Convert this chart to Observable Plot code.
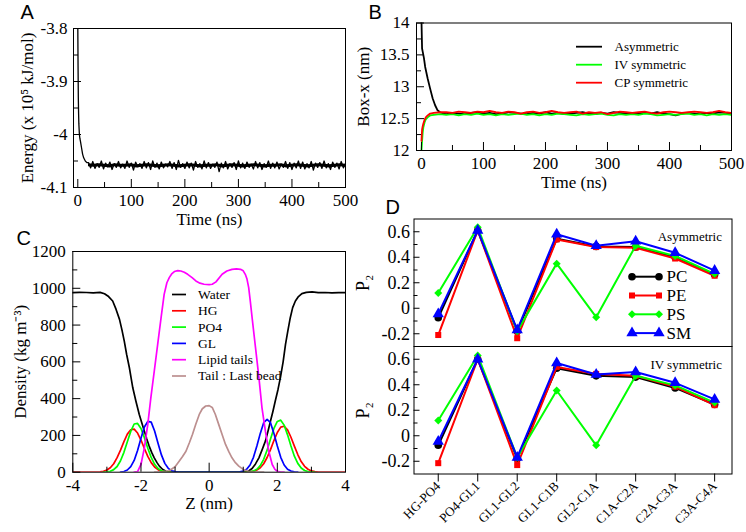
<!DOCTYPE html>
<html>
<head>
<meta charset="utf-8">
<script src="https://cdn.jsdelivr.net/npm/d3@7"></script>
<script src="https://cdn.jsdelivr.net/npm/@observablehq/plot@0.6"></script>
<style>
html,body{margin:0;padding:0;background:#fff;}
#fig{position:relative;width:746px;height:532px;overflow:hidden;background:#fff;}
#fig svg{position:absolute;overflow:visible;}
</style>
</head>
<body>
<div id="fig"></div>
<script>
// ================= DATA =================
// Panel A: total energy vs time
const energyTimeInit = [0, 0.5, 1, 1.5, 2, 3, 4, 5, 7, 9, 11, 14, 17];
const energyInit = [-3.79, -3.87, -3.93, -3.96, -3.98, -4.0, -4.008, -4.013, -4.025, -4.037, -4.044, -4.05, -4.053];
const energyNoiseStart = 20, energyNoiseStep = 4;
const energyNoise = [
-4.053,-4.063,-4.051,-4.064,-4.055,-4.062,-4.050,-4.065,-4.054,-4.061,
-4.052,-4.066,-4.055,-4.062,-4.051,-4.063,-4.056,-4.064,-4.050,-4.062,
-4.054,-4.067,-4.052,-4.061,-4.055,-4.064,-4.051,-4.063,-4.053,-4.066,
-4.050,-4.062,-4.054,-4.065,-4.052,-4.063,-4.056,-4.061,-4.051,-4.064,
-4.053,-4.066,-4.049,-4.062,-4.055,-4.064,-4.052,-4.063,-4.054,-4.067,
-4.051,-4.062,-4.055,-4.065,-4.050,-4.063,-4.053,-4.064,-4.056,-4.062,
-4.052,-4.070,-4.054,-4.063,-4.051,-4.065,-4.055,-4.062,-4.053,-4.066,
-4.050,-4.063,-4.054,-4.064,-4.052,-4.062,-4.056,-4.065,-4.051,-4.063,
-4.053,-4.066,-4.055,-4.062,-4.050,-4.064,-4.054,-4.063,-4.052,-4.065,
-4.056,-4.062,-4.051,-4.064,-4.053,-4.066,-4.054,-4.063,-4.050,-4.064,
-4.052,-4.065,-4.055,-4.063,-4.051,-4.067,-4.054,-4.062,-4.053,-4.064,
-4.050,-4.063,-4.055,-4.066,-4.052,-4.062,-4.054,-4.065,-4.051,-4.063,
-4.055];
// dense core of the fluctuation band (lower / upper edge), every 10 ns from 20 ns
const energyBandStart = 20, energyBandStep = 10;
const energyBandLow = [
-4.061,-4.062,-4.061,-4.062,-4.063,-4.061,-4.062,-4.062,-4.061,-4.063,
-4.062,-4.061,-4.062,-4.063,-4.062,-4.061,-4.062,-4.063,-4.062,-4.061,
-4.062,-4.063,-4.062,-4.062,-4.061,-4.063,-4.062,-4.061,-4.062,-4.063,
-4.062,-4.061,-4.062,-4.063,-4.062,-4.062,-4.061,-4.063,-4.062,-4.061,
-4.062,-4.063,-4.062,-4.061,-4.062,-4.063,-4.062,-4.061,-4.062];
const energyBandHigh = [
-4.055,-4.056,-4.055,-4.056,-4.057,-4.055,-4.056,-4.056,-4.055,-4.057,
-4.056,-4.055,-4.056,-4.057,-4.056,-4.055,-4.056,-4.057,-4.056,-4.055,
-4.056,-4.057,-4.056,-4.056,-4.055,-4.057,-4.056,-4.055,-4.056,-4.057,
-4.056,-4.055,-4.056,-4.057,-4.056,-4.056,-4.055,-4.057,-4.056,-4.055,
-4.056,-4.057,-4.056,-4.055,-4.056,-4.057,-4.056,-4.055,-4.056];
const energyXTicks = [0, 100, 200, 300, 400, 500];
const energyXMinor = [50, 150, 250, 350, 450];
const energyYTicks = [-4.1, -4, -3.9, -3.8];
const energyYMinor = [-4.05, -3.95, -3.85];

// Panel B: box-x vs time
const boxSeries = ["Asymmetric", "IV symmetric", "CP symmetric"];
const boxColors = ["#000000", "#00ff00", "#ff0000"];
const boxInitTime = [
  [0, 1, 2, 4, 6, 10, 14, 18, 22, 26, 30, 35],
  [0, 1, 2, 3, 5, 7, 10, 14, 20, 30],
  [0, 1, 2, 3, 5, 7, 10, 14, 20, 30]
];
const boxInitValue = [
  [14.05, 13.6, 13.55, 13.45, 13.31, 13.13, 12.97, 12.82, 12.71, 12.63, 12.6, 12.58],
  [12.0, 12.15, 12.28, 12.36, 12.44, 12.49, 12.52, 12.55, 12.56, 12.57],
  [12.15, 12.33, 12.38, 12.42, 12.48, 12.52, 12.55, 12.58, 12.59, 12.6]
];
const boxNoiseStart = 40, boxNoiseStep = 10;
const boxNoiseAsym = [
12.57,12.59,12.58,12.57,12.59,12.60,12.58,12.59,12.57,12.58,
12.60,12.59,12.58,12.57,12.59,12.58,12.60,12.58,12.59,12.57,
12.58,12.59,12.60,12.58,12.57,12.59,12.58,12.60,12.59,12.58,
12.57,12.58,12.59,12.58,12.60,12.58,12.57,12.55,12.58,12.59,
12.58,12.57,12.59,12.58,12.60,12.59,12.58];
const boxNoiseIV = [
12.56,12.57,12.55,12.57,12.56,12.58,12.56,12.57,12.55,12.57,
12.56,12.57,12.58,12.56,12.57,12.55,12.57,12.56,12.58,12.57,
12.56,12.55,12.57,12.56,12.57,12.58,12.56,12.55,12.57,12.56,
12.57,12.56,12.58,12.57,12.55,12.56,12.57,12.56,12.57,12.58,
12.56,12.57,12.55,12.57,12.56,12.57,12.56];
const boxNoiseCP = [
12.60,12.59,12.61,12.60,12.59,12.61,12.60,12.62,12.60,12.59,
12.61,12.60,12.58,12.60,12.61,12.59,12.60,12.62,12.60,12.59,
12.60,12.61,12.58,12.60,12.59,12.60,12.57,12.59,12.61,12.60,
12.59,12.60,12.61,12.59,12.58,12.60,12.61,12.60,12.59,12.60,
12.61,12.60,12.59,12.60,12.62,12.60,12.59];
const boxXTicks = [0, 100, 200, 300, 400, 500];
const boxXMinor = [50, 150, 250, 350, 450];
const boxYTicks = [12, 12.5, 13, 13.5, 14];
const boxYMinor = [12.25, 12.75, 13.25, 13.75];

// Panel C: density profiles
const densitySeries = ["Water", "HG", "PO4", "GL", "Lipid tails", "Tail : Last bead"];
const densityColors = ["#000000", "#ff0000", "#00ff00", "#0000ff", "#ff00ff", "#bc8f8f"];
const zWater = [-4,-3.8,-3.6,-3.4,-3.2,-3.07,-2.95,-2.83,-2.73,-2.63,
  -2.56,-2.49,-2.42,-2.34,-2.29,-2.24,-2.15,-2.05,-1.97,-1.90,
  -1.83,-1.76,-1.68,-1.61,-1.53,-1.46,-1.37,-1.27,-1.15,-1.0,
  1.0,1.15,1.26,1.36,1.46,1.55,1.65,1.73,1.80,1.87,
  1.94,2.02,2.09,2.17,2.24,2.31,2.38,2.45,2.53,2.62,
  2.72,2.85,3.02,3.2,3.4,3.6,3.8,4.0];
const dWater = [976,978,977,975,978,970,955,931,885,831,
  775,713,640,568,513,459,387,314,265,223,
  180,142,105,78,52,33,16,5,1,0,
  0,5,20,45,78,120,169,225,278,330,
  387,450,514,600,695,770,840,895,931,955,
  971,978,980,976,977,975,976,976];
const zHG = [-4,-3.3,-3.2,-3.1,-3.0,-2.9,-2.8,-2.7,-2.6,-2.5,
  -2.4,-2.3,-2.2,-2.1,-2.0,-1.9,-1.8,-1.7,-1.6,-1.5,
  -1.4,-1.3,-1.2,1.2,1.3,1.4,1.5,1.6,1.7,1.8,
  1.9,2.0,2.1,2.2,2.3,2.4,2.5,2.6,2.7,2.8,
  2.9,3.0,3.1,3.2,3.3,4];
const dHG = [0,0,2,5,12,24,46,79,120,166,
  207,231,234,213,175,129,86,52,28,14,
  6,2,0,2,5,12,24,46,80,123,
  172,216,245,250,230,190,142,96,58,32,
  16,7,3,1,0,0];
const zPO4 = [-3.1,-3.0,-2.9,-2.8,-2.7,-2.6,-2.5,-2.4,-2.3,-2.2,
  -2.1,-2.0,-1.9,-1.8,-1.7,-1.6,-1.5,-1.4,-1.3,-1.2,
  1.2,1.3,1.4,1.5,1.6,1.7,1.8,1.9,2.0,2.1,
  2.2,2.3,2.4,2.5,2.6,2.7,2.8,2.9,3.0,3.1];
const dPO4 = [0,2,5,14,31,62,108,165,222,262,
  265,238,188,130,80,43,20,8,3,1,
  2,7,16,36,70,120,180,238,276,283,
  256,203,142,87,48,23,9,3,1,0];
const zGL = [-2.6,-2.5,-2.4,-2.3,-2.2,-2.1,-2.0,-1.9,-1.8,-1.7,
  -1.6,-1.5,-1.4,-1.3,-1.2,-1.1,-1.0,-0.9,0.9,1.0,
  1.1,1.2,1.3,1.4,1.5,1.6,1.7,1.8,1.9,2.0,
  2.1,2.2,2.3,2.4,2.5,2.6];
const dGL = [0,4,12,30,64,118,185,246,276,272,
  224,157,94,48,21,8,3,1,2,6,
  16,39,81,142,211,269,287,269,211,142,
  81,39,16,6,2,0];
const zTails = [-2.2,-2.1,-2.0,-1.9,-1.8,-1.71,-1.61,-1.51,-1.41,-1.32,
  -1.24,-1.17,-1.1,-1.02,-0.92,-0.83,-0.73,-0.63,-0.5,-0.39,
  -0.27,-0.15,0,0.09,0.2,0.38,0.52,0.67,0.8,0.92,
  1.0,1.06,1.11,1.16,1.21,1.26,1.36,1.46,1.55,1.65,
  1.75,1.85,1.93,2.0,2.1,2.2];
const dTails = [0,3,42,132,260,405,550,695,840,967,
  1030,1058,1078,1091,1096,1094,1087,1076,1058,1040,
  1028,1022,1020,1022,1035,1076,1094,1103,1106,1103,
  1095,1076,1050,1004,925,840,677,514,350,223,
  114,42,15,5,1,0];
const zLast = [-1.6,-1.4,-1.17,-1.0,-0.88,-0.78,-0.68,-0.58,-0.49,-0.39,
  -0.29,-0.2,-0.1,0,0.09,0.18,0.28,0.38,0.48,0.58,
  0.67,0.77,0.87,1.0,1.15,1.4,1.6];
const dLast = [0,2,8,30,60,85,114,160,205,262,
  314,345,360,362,352,315,260,205,151,110,
  78,52,33,15,5,1,0];
const densityXTicks = [-4, -2, 0, 2, 4];
const densityXMinor = [-3, -1, 1, 3];
const densityYTicks = [0, 200, 400, 600, 800, 1000, 1200];
const densityYMinor = [100, 300, 500, 700, 900, 1100];

// Panel D: P2 order parameters
const bondLabels = ["HG-PO4","PO4-GL1","GL1-GL2","GL1-C1B","GL2-C1A","C1A-C2A","C2A-C3A","C3A-C4A"];
const lipidTypes = ["PC", "PE", "PS", "SM"];
const lipidColors = ["#000000", "#ff0000", "#00ff00", "#0000ff"];
const lipidSymbols = ["circle", "square", "diamond2", "triangle"];
const lipidSizes = [3.8, 3.4, 3.6, 4.2];
const asymPC = [-0.075, 0.61, -0.18, 0.545, 0.485, 0.48, 0.40, 0.265];
const asymPE = [-0.21, 0.61, -0.235, 0.54, 0.48, 0.475, 0.39, 0.255];
const asymPS = [0.12, 0.635, -0.18, 0.35, -0.07, 0.49, 0.41, 0.27];
const asymSM = [-0.045, 0.61, -0.17, 0.58, 0.49, 0.525, 0.435, 0.295];
const ivPC = [-0.075, 0.60, -0.18, 0.53, 0.47, 0.46, 0.375, 0.245];
const ivPE = [-0.215, 0.60, -0.23, 0.54, 0.485, 0.47, 0.385, 0.24];
const ivPS = [0.12, 0.63, -0.17, 0.355, -0.075, 0.47, 0.395, 0.26];
const ivSM = [-0.045, 0.60, -0.17, 0.57, 0.48, 0.50, 0.415, 0.285];
const p2YTicks = [-0.2, 0, 0.2, 0.4, 0.6];
const p2YMinor = [-0.1, 0.1, 0.3, 0.5];
const panelNotes = ["Asymmetric", "IV symmetric"];

// ================= RENDER =================
const fig = document.getElementById("fig");
const SERIF = '"Liberation Serif","Times New Roman",Times,serif';
const SANS = '"Liberation Sans",Arial,Helvetica,sans-serif';
const STYLE = "font-family:" + SERIF + ";font-size:17px;color:black;background:transparent;overflow:visible;";
const F = {fontFamily: SERIF};

function put(svg, left, top, size) {
  svg.setAttribute("font-family", SERIF);
  svg.setAttribute("font-size", size || 17);
  svg.style.fontFamily = SERIF;
  svg.style.fontSize = (size || 17) + "px";
  svg.style.position = "absolute";
  svg.style.left = left + "px";
  svg.style.top = top + "px";
  fig.appendChild(svg);
}
function insideTicks(pw, ph, xMaj, xMin, yMaj, yMin, xL, xl, yL, yl) {
  const m = [];
  if (xMaj) m.push(Plot.tickX(xMaj, {x: d => d, insetTop: ph - xL, stroke: "black"}));
  if (xMin) m.push(Plot.tickX(xMin, {x: d => d, insetTop: ph - xl, stroke: "black"}));
  if (yMaj) m.push(Plot.tickY(yMaj, {y: d => d, insetRight: pw - yL, stroke: "black"}));
  if (yMin) m.push(Plot.tickY(yMin, {y: d => d, insetRight: pw - yl, stroke: "black"}));
  return m;
}
const fmt = d => String(d);

// ---- Panel A ----
{
  const W = 365, H = 235, ML = 73, MR = 20, MT = 28, MB = 48;
  const pw = W - ML - MR, ph = H - MT - MB;
  const times = energyTimeInit.concat(energyNoise.map((_, i) => energyNoiseStart + i * energyNoiseStep));
  const vals = energyInit.concat(energyNoise);
  const data = times.map((t, i) => ({t, e: vals[i]}));
  const band = energyBandLow.map((lo, i) => ({t: energyBandStart + i * energyBandStep, lo, hi: energyBandHigh[i]}));
  const p = Plot.plot({
    width: W, height: H, marginLeft: ML, marginRight: MR, marginTop: MT, marginBottom: MB,
    style: STYLE,
    x: {domain: [-8, 500]},
    y: {domain: [-4.1, -3.8]},
    marks: [
      Plot.areaY(band, {x: "t", y1: "lo", y2: "hi", fill: "black", clip: true}),
      Plot.line(data, {x: "t", y: "e", stroke: "black", strokeWidth: 1.3, clip: true}),
      ...insideTicks(pw, ph, energyXTicks, energyXMinor, energyYTicks, energyYMinor, 8, 5, 8, 5),
      Plot.axisX(energyXTicks, {...F, fontSize: 17, tickSize: 0, tickPadding: 6, tickFormat: fmt, label: "Time (ns)", labelAnchor: "center", labelArrow: "none", labelOffset: 37}),
      Plot.axisY(energyYTicks, {...F, fontSize: 17, tickSize: 0, tickPadding: 6, tickFormat: fmt, label: "Energy (x 10\u2075 kJ/mol)", labelAnchor: "center", labelArrow: "none", labelOffset: 53}),
      Plot.frame({stroke: "black"})
    ]
  });
  put(p, 0, 0);
}

// ---- Panel B ----
{
  const W = 396, H = 200, ML = 66, MR = 15, MT = 22.5, MB = 50;
  const pw = W - ML - MR, ph = H - MT - MB;
  const noise = [boxNoiseAsym, boxNoiseIV, boxNoiseCP];
  const lines = boxSeries.map((name, j) => {
    const t = boxInitTime[j].concat(noise[j].map((_, i) => boxNoiseStart + i * boxNoiseStep));
    const v = boxInitValue[j].concat(noise[j]);
    return Plot.line(t.map((tt, i) => ({t: tt, v: v[i]})), {x: "t", y: "v", stroke: boxColors[j], strokeWidth: 1.8, clip: true});
  });
  const p = Plot.plot({
    width: W, height: H, marginLeft: ML, marginRight: MR, marginTop: MT, marginBottom: MB,
    style: STYLE,
    x: {domain: [-8, 500]},
    y: {domain: [12, 14]},
    marks: [
      ...lines,
      ...insideTicks(pw, ph, boxXTicks, boxXMinor, boxYTicks, boxYMinor, 8, 5, 8, 5),
      Plot.axisX(boxXTicks, {...F, fontSize: 17, tickSize: 0, tickPadding: 6, tickFormat: fmt, label: "Time (ns)", labelAnchor: "center", labelArrow: "none", labelOffset: 37}),
      Plot.axisY(boxYTicks, {...F, fontSize: 17, tickSize: 0, tickPadding: 7, tickFormat: fmt, label: "Box-x (nm)", labelAnchor: "center", labelArrow: "none", labelOffset: 60}),
      Plot.frame({stroke: "black"})
    ]
  });
  put(p, 350, 0);
}

// ---- Panel C ----
{
  const W = 365, H = 290, ML = 72.3, MR = 20, MT = 21, MB = 48.3;
  const pw = W - ML - MR, ph = H - MT - MB;
  const zs = [zWater, zHG, zPO4, zGL, zTails, zLast];
  const ds = [dWater, dHG, dPO4, dGL, dTails, dLast];
  const lines = densitySeries.map((name, j) =>
    Plot.line(zs[j].map((z, i) => ({z, d: ds[j][i]})), {x: "z", y: "d", stroke: densityColors[j], strokeWidth: 1.7, clip: true}));
  const p = Plot.plot({
    width: W, height: H, marginLeft: ML, marginRight: MR, marginTop: MT, marginBottom: MB,
    style: STYLE,
    x: {domain: [-4, 4]},
    y: {domain: [0, 1200]},
    marks: [
      ...lines,
      ...insideTicks(pw, ph, densityXTicks, densityXMinor, densityYTicks, densityYMinor, 9, 5, 8, 5),
      Plot.axisX(densityXTicks, {...F, fontSize: 17, tickSize: 0, tickPadding: 7, tickFormat: fmt, label: "Z (nm)", labelAnchor: "center", labelArrow: "none", labelOffset: 37}),
      Plot.axisY(densityYTicks, {...F, fontSize: 17, tickSize: 0, tickPadding: 7, tickFormat: fmt, label: "Density (kg m\u207B\u00B3)", labelAnchor: "center", labelArrow: "none", labelOffset: 59}),
      Plot.frame({stroke: "black"})
    ]
  });
  put(p, 0, 230);
}

// ---- Panel D ----
function p2Panel(series, note, bottom) {
  const W = 386, ML = 53.5, MR = 14.5;
  const H = bottom ? 187 : 152;
  const MT = bottom ? 1 : 23.5;
  const MB = bottom ? 58.5 : 1;
  const pw = W - ML - MR, ph = H - MT - MB;
  const marks = [];
  lipidTypes.forEach((lt, j) => {
    const rows = series[j].map((v, i) => ({i, v}));
    marks.push(Plot.line(rows, {x: "i", y: "v", stroke: lipidColors[j], strokeWidth: 2}));
    marks.push(Plot.dot(rows, {x: "i", y: "v", symbol: lipidSymbols[j], fill: lipidColors[j], r: lipidSizes[j]}));
  });
  marks.push(...insideTicks(pw, ph, null, null, p2YTicks, p2YMinor, 0, 0, 6, 4));
  marks.push(Plot.text([note], {...F, text: d => d, frameAnchor: "top-right", dx: -10, dy: 13, fontSize: 13, textAnchor: "end"}));
  marks.push(Plot.axisY(p2YTicks, {...F, tickSize: 0, tickPadding: 4, tickFormat: fmt, fontSize: 18, label: "P\u2082", labelAnchor: "center", labelArrow: "none", labelOffset: 58}));
  if (bottom) {
    marks.push(Plot.axisX(d3.range(bondLabels.length), {...F, tickSize: 8, tickPadding: 2, tickRotate: -45, fontSize: 13, tickFormat: i => bondLabels[i], label: null}));
  } else {
    marks.push(Plot.axisX([], {label: null}));
  }
  marks.push(Plot.frame({stroke: "black"}));
  return Plot.plot({
    width: W, height: H, marginLeft: ML, marginRight: MR, marginTop: MT, marginBottom: MB,
    style: STYLE,
    x: {domain: [-0.614, 7.44]},
    y: {domain: [-0.3, 0.7]},
    marks
  });
}
put(p2Panel([asymPC, asymPE, asymPS, asymSM], panelNotes[0], false), 360, 195, 18);
put(p2Panel([ivPC, ivPE, ivPS, ivSM], panelNotes[1], true), 360, 345, 18);

// ---- Overlay: panel letters and legends ----
const ov = d3.select(fig).append("svg")
  .attr("width", 746).attr("height", 532)
  .style("left", "0px").style("top", "0px").style("pointer-events", "none");

const panelLetters = [["A", 20.5, 18.5], ["B", 368.5, 18.5], ["C", 16.5, 245], ["D", 385.5, 213.5]];
ov.selectAll("text.letter").data(panelLetters).join("text")
  .attr("class", "letter").attr("x", d => d[1]).attr("y", d => d[2])
  .attr("font-family", SANS).attr("font-size", 20).text(d => d[0]);

// B legend
boxSeries.forEach((name, j) => {
  const y = 46.7 + j * 18;
  ov.append("line").attr("x1", 576).attr("x2", 602).attr("y1", y).attr("y2", y)
    .attr("stroke", boxColors[j]).attr("stroke-width", 1.8);
  ov.append("text").attr("x", 614.5).attr("y", y).attr("dy", "0.33em")
    .attr("font-family", SERIF).attr("font-size", 13).text(name);
});

// C legend
densitySeries.forEach((name, j) => {
  const y = 294.5 + j * 16.3;
  ov.append("line").attr("x1", 172).attr("x2", 186).attr("y1", y).attr("y2", y)
    .attr("stroke", densityColors[j]).attr("stroke-width", 1.7);
  ov.append("text").attr("x", 198).attr("y", y).attr("dy", "0.33em")
    .attr("font-family", SERIF).attr("font-size", 13.5).text(name);
});

// D legend
const d3Sym = {circle: d3.symbolCircle, square: d3.symbolSquare, diamond2: d3.symbolDiamond2, triangle: d3.symbolTriangle};
lipidTypes.forEach((name, j) => {
  const y = 276.7 + j * 18.8;
  ov.append("line").attr("x1", 632).attr("x2", 659).attr("y1", y).attr("y2", y)
    .attr("stroke", lipidColors[j]).attr("stroke-width", 2);
  const path = d3.symbol(d3Sym[lipidSymbols[j]], Math.PI * lipidSizes[j] * lipidSizes[j])();
  [632, 659].forEach(x => ov.append("path").attr("d", path)
    .attr("transform", `translate(${x},${y})`).attr("fill", lipidColors[j]));
  ov.append("text").attr("x", 666.5).attr("y", y).attr("dy", "0.34em")
    .attr("font-family", SERIF).attr("font-size", 17).text(name);
});
</script>
</body>
</html>
